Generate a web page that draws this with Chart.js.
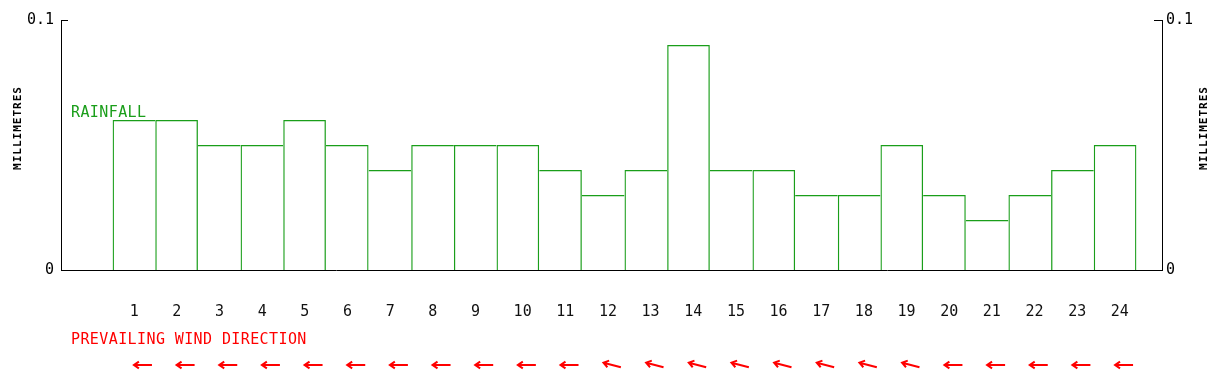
<!DOCTYPE html>
<html>
<head>
<meta charset="utf-8">
<script src="https://cdn.jsdelivr.net/npm/chart.js@4/dist/chart.umd.min.js"></script>
<style>
  html, body { margin: 0; padding: 0; background: #fff; }
  #wrap { width: 1231px; height: 381px; }
</style>
</head>
<body>
<div id="wrap"><canvas id="rain" width="1231" height="381"></canvas></div>
<script>
// values
const hours = ['1','2','3','4','5','6','7','8','9','10','11','12','13','14','15','16','17','18','19','20','21','22','23','24'];
const rainfall = [0.06,0.06,0.05,0.05,0.06,0.05,0.04,0.05,0.05,0.05,0.04,0.03,0.04,0.09,0.04,0.04,0.03,0.03,0.05,0.03,0.02,0.03,0.04,0.05];
// direction the arrow points, degrees (270 = west)
const windDeg = [270,270,270,270,270,270,270,270,270,270,270,285,285,285,285,285,285,285,285,270,270,270,270,270];
const yTickValues = [0, 0.1];
const yTickLabels = ['0', '0.1'];

const GREEN = '#1a9e1a';
const RED = '#ff0000';
const MONO = "'DejaVu Sans Mono', 'Liberation Mono', monospace";

// shared edge between two bars is drawn once, by the taller bar
function barBorder(c) {
  const i = c.dataIndex, v = rainfall[i], n = rainfall.length;
  return {
    top: 1.3,
    bottom: 0,
    left: (i === 0 || rainfall[i - 1] <= v) ? 1.3 : 0,
    right: (i === n - 1 || rainfall[i + 1] < v) ? 1.3 : 0
  };
}

const extras = {
  id: 'extras',
  afterDraw(chart) {
    const { ctx, chartArea } = chart;
    const xs = chart.scales.x, ys = chart.scales.y, ys2 = chart.scales.y2;
    ctx.save();

    // inner tick marks at the top value
    ctx.strokeStyle = '#000';
    ctx.lineWidth = 1;
    const yl = Math.round(ys.getPixelForValue(0.1)) + 0.5;
    const yr = Math.round(ys2.getPixelForValue(0.1)) + 0.5;
    ctx.beginPath();
    ctx.moveTo(chartArea.left, yl); ctx.lineTo(chartArea.left + 7, yl);
    ctx.moveTo(chartArea.right - 8, yr); ctx.lineTo(chartArea.right, yr);
    ctx.stroke();

    // axis titles
    ctx.font = "bold 11px " + MONO;
    ctx.letterSpacing = '1px';
    ctx.fillStyle = '#000';
    ctx.textAlign = 'center';
    ctx.textBaseline = 'middle';
    [18, 1204].forEach(x => {
      ctx.save();
      ctx.translate(x, 128);
      ctx.rotate(-Math.PI / 2);
      ctx.fillText('MILLIMETRES', 0, 0);
      ctx.restore();
    });

    // series label and wind caption
    ctx.font = "15px " + MONO;
    ctx.letterSpacing = '0.4px';
    ctx.textAlign = 'left';
    ctx.fillStyle = GREEN;
    ctx.fillText('RAINFALL', 71, 113);
    ctx.fillStyle = RED;
    ctx.fillText('PREVAILING WIND DIRECTION', 71, 340);

    // wind arrows
    ctx.strokeStyle = RED;
    ctx.lineWidth = 2;
    windDeg.forEach((deg, i) => {
      const b = deg * Math.PI / 180;
      const dx = Math.sin(b), dy = -Math.cos(b);
      const cx = xs.getPixelForValue(i) + 9, cy = 365;
      const tipX = cx + dx * 9, tipY = cy + dy * 9;
      const tailX = cx - dx * 9, tailY = cy - dy * 9;
      const a = Math.atan2(dy, dx);
      ctx.beginPath();
      ctx.moveTo(tailX, tailY); ctx.lineTo(tipX, tipY);
      ctx.moveTo(tipX + Math.cos(a + Math.PI - 0.6) * 6, tipY + Math.sin(a + Math.PI - 0.6) * 6);
      ctx.lineTo(tipX, tipY);
      ctx.lineTo(tipX + Math.cos(a + Math.PI + 0.6) * 6, tipY + Math.sin(a + Math.PI + 0.6) * 6);
      ctx.stroke();
    });
    ctx.restore();
  }
};

const yTickCfg = {
  font: { family: MONO, size: 15 },
  color: '#000'
};

new Chart(document.getElementById('rain'), {
  type: 'bar',
  data: {
    datasets: [{
      label: 'RAINFALL',
      data: rainfall.map((v, i) => ({ x: i, y: v })),
      backgroundColor: 'rgba(0,0,0,0)',
      borderColor: GREEN,
      borderWidth: barBorder,
      borderSkipped: false,
      inflateAmount: 0,
      barPercentage: 1,
      categoryPercentage: 1,
      yAxisID: 'y'
    }]
  },
  options: {
    responsive: false,
    animation: false,
    layout: { padding: { top: 20, left: 0, right: 0, bottom: 0 } },
    plugins: { legend: { display: false }, tooltip: { enabled: false } },
    scales: {
      x: {
        type: 'linear',
        offset: false,
        min: -1.71,
        max: 24.1,
        grid: { display: false, drawTicks: false, offset: false },
        border: { display: true, color: '#000', width: 1 },
        afterBuildTicks: s => { s.ticks = hours.map((h, i) => ({ value: i - 0.1 })); },
        afterFit: s => { s.height = 111; },
        ticks: {
          align: 'start',
          padding: 33,
          maxRotation: 0,
          autoSkip: false,
          font: { family: MONO, size: 15 },
          color: '#111',
          callback: (v, i) => hours[i]
        }
      },
      y: {
        position: 'left',
        min: 0, max: 0.1,
        grid: { display: false, drawTicks: false },
        border: { display: true, color: '#000', width: 1 },
        afterBuildTicks: s => { s.ticks = yTickValues.map(v => ({ value: v })); },
        afterFit: s => { s.width = 61; },
        ticks: Object.assign({ padding: 7, callback: (v, i) => yTickLabels[i] }, yTickCfg)
      },
      y2: {
        position: 'right',
        min: 0, max: 0.1,
        grid: { display: false, drawTicks: false },
        border: { display: true, color: '#000', width: 1 },
        afterBuildTicks: s => { s.ticks = yTickValues.map(v => ({ value: v })); },
        afterFit: s => { s.width = 69; },
        ticks: Object.assign({ padding: 4, callback: (v, i) => yTickLabels[i] }, yTickCfg)
      }
    }
  },
  plugins: [extras]
});
</script>
</body>
</html>
